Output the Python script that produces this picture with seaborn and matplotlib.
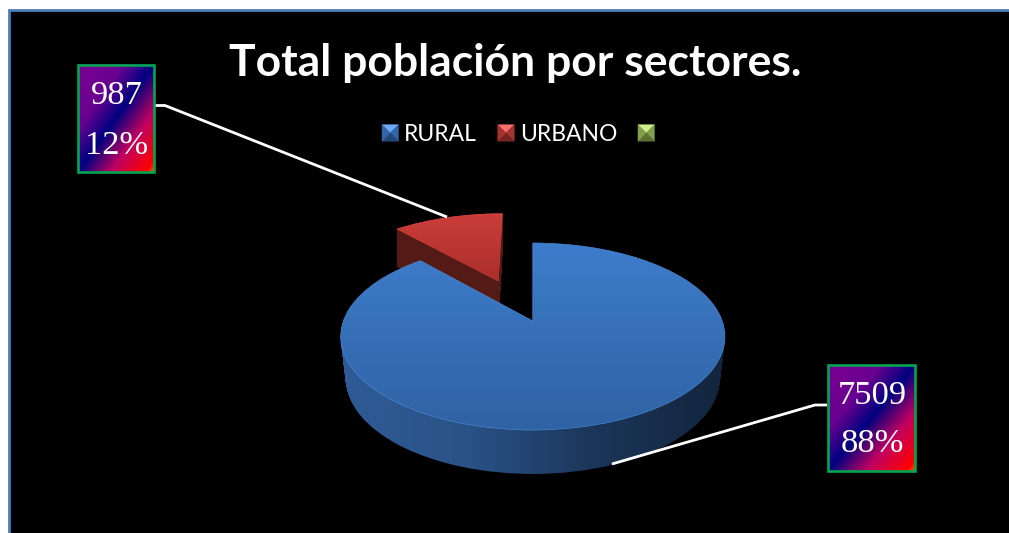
import numpy as np
import matplotlib
matplotlib.use("Agg")
import matplotlib.pyplot as plt
from matplotlib.transforms import Transform
from matplotlib.path import Path
from matplotlib.patches import PathPatch, Polygon, Rectangle, Patch
from matplotlib.legend_handler import HandlerBase
import seaborn as sns

# ---- data ----
categories = ["RURAL", "URBANO", " "]
values = [7509, 987, 0]
slice_colors = ["#3b78c6", "#c43c39", "#9bbb59"]
TITLE = "Total población por sectores."

sns.set_theme(style="white")
plt.rcParams["font.family"] = ["Lato", "DejaVu Sans"]

W, H = 1009, 533
fig = plt.figure(figsize=(W / 100, H / 100), dpi=100, facecolor="white")
ax = fig.add_axes([0, 0, 1, 1])


class Perspective(Transform):
    """Tilted-disc projection of the unit pie into pixel-like data coords."""
    input_dims = output_dims = 2

    def __init__(self, cx, cy, a, b, k, d0=0.0, d1=0.0, sx=1.0):
        super().__init__()
        self.p = (cx, cy, a, b, k, d0, d1, sx)

    def transform_non_affine(self, xy):
        cx, cy, a, b, k, d0, d1, sx = self.p
        xy = np.asarray(xy, float)
        x, y = xy[:, 0], xy[:, 1]
        w = 1 + k * y
        return np.column_stack([cx + sx * b * x / w, cy - a * y / w + d0 + d1 * y])


CX, CY, A, B, K = 532.8, 321, 90.9, 189.4, 0.1657
RED_DX, RED_DY = -3.3, -0.6
top = Perspective(CX, CY, A, B, K)
top_red = Perspective(CX + RED_DX, CY + RED_DY, A, B, K)

pos = [i for i, v in enumerate(values) if v > 0]
explode = [0.0, 0.494]
wedges, _ = ax.pie([values[i] for i in pos], explode=explode, startangle=90,
                   counterclock=False, colors=[slice_colors[i] for i in pos])

ax.set_aspect("auto")
ax.set_xlim(0, W)
ax.set_ylim(H, 0)
ax.set_axis_off()

# slide background and border
ax.add_patch(Rectangle((9, 10), W + 20, H, facecolor="black", edgecolor="#4a7ebb",
                       linewidth=2, zorder=0))


def wall_path(wedge, dx=0.0, dy=0.0, narrowing=0.026):
    paths = []
    for t in np.linspace(0, 1, 45):
        tr = Perspective(CX + dx, CY + dy, A, B, K, d0=41 * t, d1=-3 * t, sx=1 - narrowing * t)
        paths.append(tr.transform_path(wedge.get_path()))
    return Path.make_compound_path(*paths)


def gradient(cols, extent, horizontal, clip, zorder):
    cmap = sns.blend_palette(cols, as_cmap=True)
    g = np.linspace(0, 1, 256)
    arr = g[None, :] if horizontal else g[:, None]
    im = ax.imshow(arr, cmap=cmap, extent=extent, aspect="auto", zorder=zorder,
                   interpolation="bilinear", origin="upper")
    im.set_clip_path(clip)
    return im


rural, urbano = wedges

# urbano slice (behind)
wall_r = PathPatch(wall_path(urbano, RED_DX, RED_DY, narrowing=0.0), facecolor="#541a16",
                   edgecolor="none", zorder=2)
ax.add_patch(wall_r)
urbano.set_transform(top_red + ax.transData)
urbano.set_zorder(3)
urbano.set_edgecolor("none")
gradient(["#cf3f3b", "#a52d2a"], (390, 510, 290, 205), False, urbano, 3)

# rural slice
wall_b = PathPatch(wall_path(rural), facecolor="none", edgecolor="none", zorder=4)
ax.add_patch(wall_b)
gradient(["#2f5c97", "#2a5287", "#1b3558", "#13243c"], (335, 730, 480, 320), True, wall_b, 4)
rural.set_transform(top + ax.transData)
rural.set_zorder(5.5)
rural.set_facecolor("none")
rural.set_edgecolor("#4a86d2")
rural.set_linewidth(0.5)
gradient(["#3e7dcc", "#2f62a3"], (335, 730, 432, 240), False, rural, 5)

ax.set_xlim(0, W)
ax.set_ylim(H, 0)

# leader lines
ax.plot([155, 165, 447], [105.5, 105.5, 217], color="white", lw=2.0, zorder=6, solid_capstyle="butt")
ax.plot([827, 815, 612], [405, 405, 464], color="white", lw=2.0, zorder=6, solid_capstyle="butt")

# data-label boxes with a diagonal gradient
u, v = np.meshgrid(np.linspace(0, 1, 200), np.linspace(0, 1, 200))
diag = (u + v) / 2
box_cmap = sns.blend_palette(["#7a0090", "#6a0090", "#000080", "#c00060", "#ff0000", "#ff6000"],
                             as_cmap=True)
stops = np.array([0, .3, .5, .72, .95, 1.0])
mapped = np.interp(diag, stops, np.linspace(0, 1, 6))


def label_box(x0, x1, y0, y1, i, y_val, y_pct):
    total = sum(values)
    ax.imshow(mapped, cmap=box_cmap, extent=(x0, x1, y1, y0), aspect="auto",
              zorder=7, origin="upper")
    ax.add_patch(Rectangle((x0, y0), x1 - x0, y1 - y0, facecolor="none",
                           edgecolor="#00a650", lw=1.9, zorder=8))
    xc = (x0 + x1) / 2
    ax.text(xc + 0.5, y_val, str(values[i]), color="white", ha="center", va="baseline",
            family="Liberation Serif", fontsize=24.8, zorder=9)
    ax.text(xc + 0.5, y_pct, f"{values[i] / total:.0%}", color="white", ha="center", va="baseline",
            family="Liberation Serif", fontsize=24.8, zorder=9)


label_box(78, 154, 64.5, 172, 1, 103.5, 154)
label_box(828, 915, 365, 471, 0, 403.5, 451.5)

ax.set_xlim(0, W)
ax.set_ylim(H, 0)

# title
ax.text(515.5, 63, TITLE, color="white", ha="center", va="center",
        fontsize=32, fontweight="bold", zorder=9)


# legend with bevelled swatches
class Bevel(HandlerBase):
    def create_artists(self, legend, orig, xd, yd, width, height, fontsize, trans):
        c = np.array(matplotlib.colors.to_rgb(orig.get_facecolor()))
        light = np.clip(c + 0.2, 0, 1)
        dark = c * 0.6
        mid = c * 0.85
        s = 16.5 * 72 / 100
        x0 = -xd
        y0 = -yd + (height - s) / 2
        x1, y1 = x0 + s, y0 + s
        m = (x0 + s / 2, y0 + s / 2)
        quads = [((x0, y1), (x1, y1), m, light), ((x1, y1), (x1, y0), m, mid),
                 ((x1, y0), (x0, y0), m, dark), ((x0, y0), (x0, y1), m, mid)]
        return [Polygon(q[:3], closed=True, facecolor=q[3], edgecolor=q[3], linewidth=0.3,
                        transform=trans) for q in quads]


handles = [Patch(facecolor=c) for c in slice_colors]
leg = ax.legend(handles, categories, handler_map={Patch: Bevel()}, ncol=3, frameon=False,
                loc="center left", bbox_to_anchor=(382 / W, 1 - 134.5 / H), borderpad=0,
                borderaxespad=0, fontsize=16.5, labelcolor="white", handlelength=0.72,
                handleheight=0.7, handletextpad=0.25, columnspacing=0.9)
leg.set_zorder(9)

fig.savefig("out.png", dpi=100, facecolor="white")
